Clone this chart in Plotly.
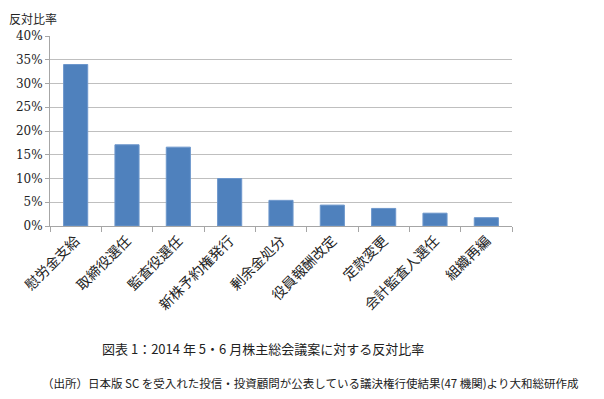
import plotly.graph_objects as go

categories = ["慰労金支給", "取締役選任", "監査役選任", "新株予約権発行", "剰余金処分",
              "役員報酬改定", "定款変更", "会計監査人選任", "組織再編"]
values = [0.340, 0.171, 0.166, 0.100, 0.054, 0.044, 0.037, 0.027, 0.0175]
y_ticks = [0, 0.05, 0.10, 0.15, 0.20, 0.25, 0.30, 0.35, 0.40]
y_tick_labels = ["0%", "5%", "10%", "15%", "20%", "25%", "30%", "35%", "40%"]

fig = go.Figure()
fig.add_trace(go.Bar(
    x=categories, y=values,
    marker=dict(color="#4F81BD", line=dict(color="#6D97CC", width=1)),
    width=0.47,
))

# page body has an 8px margin, so work in coordinates shifted by 8px
OFF = 8
W, H = 604 - OFF, 399 - OFF
L, T = 50 - OFF, 36 - OFF
R = W - (512 - OFF)
B = H - (226 - OFF)
pw, ph = W - L - R, H - T - B

def px(x):
    return (x - OFF - L) / pw

def py(y):
    return (H - B - (y - OFF)) / ph

fig.update_layout(
    width=W, height=H,
    margin=dict(l=L, r=R, t=T, b=B, autoexpand=False),
    paper_bgcolor="white", plot_bgcolor="white",
    showlegend=False,
    xaxis=dict(
        type="category",
        automargin=False,
        tickangle=-45,
        tickfont=dict(family="Noto Sans CJK JP", size=14, color="#222"),
        showline=True, linecolor="#a6a6a6", linewidth=1,
        ticks="outside", tickson="boundaries", ticklen=5, tickcolor="#a6a6a6",
        showgrid=False,
    ),
    yaxis=dict(
        range=[0, 0.4],
        automargin=False,
        tickvals=y_ticks, ticktext=y_tick_labels,
        tickfont=dict(family="DejaVu Serif", size=12, color="#222"),
        showline=True, linecolor="#a6a6a6", linewidth=1,
        ticks="outside", ticklen=4, tickcolor="#a6a6a6",
        showgrid=True, gridcolor="#bfbfbf", gridwidth=1,
        zeroline=False,
    ),
    annotations=[
        dict(text="反対比率", xref="paper", yref="paper", x=px(7), y=py(8),
             xanchor="left", yanchor="top", showarrow=False,
             font=dict(family="Noto Sans CJK JP", size=12, color="#222")),
        dict(text="図表 1：2014 年 5・6 月株主総会議案に対する反対比率",
             xref="paper", yref="paper", x=px(263), y=py(348),
             xanchor="center", yanchor="middle", showarrow=False,
             font=dict(family="Noto Sans CJK JP", size=13, color="#222")),
        dict(text="（出所）日本版 SC を受入れた投信・投資顧問が公表している議決権行使結果(47 機関)より大和総研作成",
             xref="paper", yref="paper", x=px(40), y=py(383),
             xanchor="left", yanchor="middle", showarrow=False,
             font=dict(family="Noto Sans CJK JP", size=11.5, color="#222")),
    ],
)

fig.write_html("out.html")
